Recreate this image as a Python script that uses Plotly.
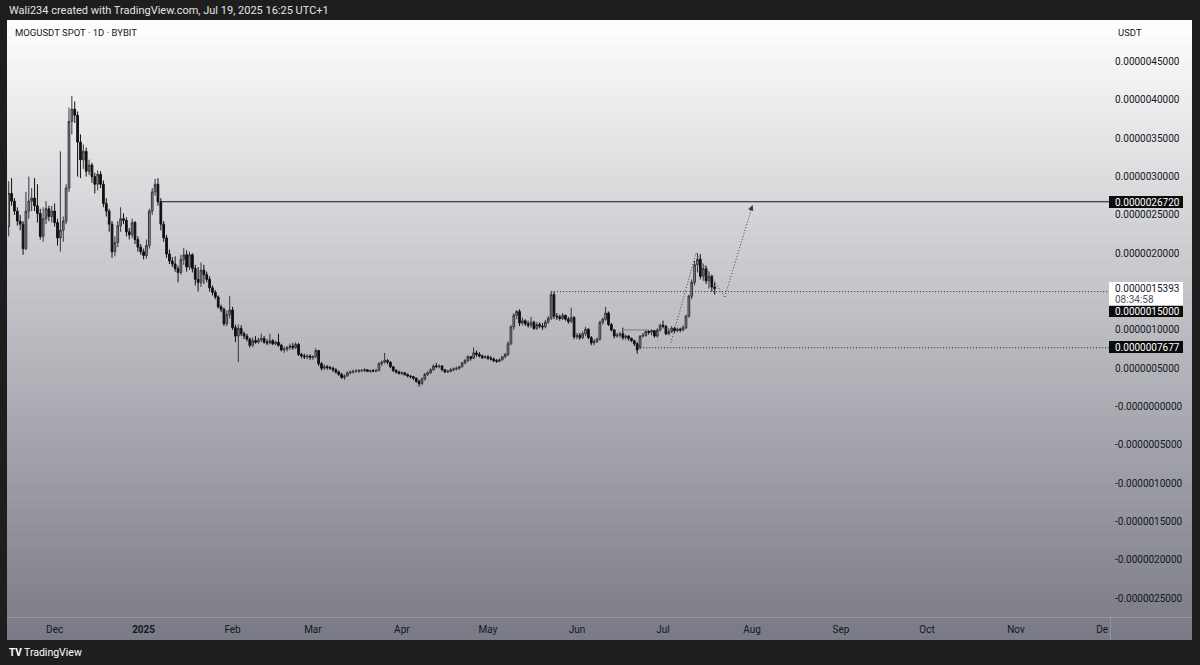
import plotly.graph_objects as go
import pandas as pd

# ---------------- data (prices in micro-USDT, i.e. x 1e-6) ----------------
start_date = "2024-11-15"
open_ = [2.35,2.78,2.68,2.55,2.42,2.38,2.06,2.55,2.68,2.72,2.62,2.52,2.22,2.45,2.58,2.48,2.55,2.40,2.20,2.30,
         2.42,2.85,3.72,3.88,3.80,3.45,3.22,3.33,3.07,3.15,3.00,2.90,3.03,2.90,2.65,2.55,2.38,2.02,2.14,2.36,
         2.45,2.43,2.28,2.24,2.40,2.18,2.08,2.02,1.97,2.10,2.55,2.80,2.90,2.67,2.38,2.20,1.99,1.90,1.86,1.80,
         1.75,1.92,1.98,1.82,1.98,1.80,1.66,1.62,1.78,1.72,1.66,1.55,1.49,1.43,1.30,1.27,1.08,1.20,1.26,1.03,
         0.92,1.02,0.95,0.92,0.88,0.80,0.86,0.84,0.87,0.89,0.84,0.83,0.86,0.82,0.84,0.80,0.74,0.75,0.77,0.79,
         0.77,0.81,0.68,0.66,0.65,0.66,0.64,0.65,0.73,0.56,0.50,0.52,0.51,0.50,0.48,0.45,0.42,0.38,0.40,0.44,
         0.45,0.46,0.46,0.47,0.47,0.48,0.46,0.47,0.46,0.47,0.56,0.58,0.60,0.58,0.52,0.47,0.45,0.43,0.44,0.42,
         0.40,0.39,0.37,0.33,0.30,0.36,0.42,0.44,0.48,0.53,0.52,0.53,0.48,0.45,0.46,0.48,0.49,0.50,0.52,0.57,
         0.60,0.65,0.63,0.70,0.68,0.66,0.64,0.65,0.63,0.62,0.60,0.59,0.61,0.65,0.68,0.82,1.04,1.19,1.24,1.09,
         1.12,1.08,1.06,1.10,1.02,1.07,1.05,1.04,1.10,1.15,1.46,1.18,1.17,1.15,1.19,1.14,1.11,1.16,0.91,0.93,
         0.90,0.95,1.01,0.90,0.83,0.85,0.88,1.10,1.14,1.22,1.07,1.00,0.92,0.93,0.95,0.90,0.92,0.89,0.86,0.82,
         0.77,0.92,0.93,0.98,0.97,0.99,0.92,1.00,1.06,1.05,0.95,0.98,1.02,0.99,1.01,1.00,1.03,1.18,1.44,1.62,
         1.85,1.92,1.70,1.80,1.64,1.70,1.56]
high = [2.94,2.98,2.72,2.60,2.50,2.42,2.80,3.00,2.85,2.98,2.90,2.58,2.60,2.68,2.62,2.62,2.65,2.45,3.33,2.48,
        2.90,3.90,4.05,3.98,3.85,3.55,3.42,3.38,3.22,3.18,3.05,3.08,3.07,2.95,2.72,2.58,2.42,2.22,2.42,2.60,
        2.52,2.47,2.33,2.45,2.42,2.22,2.12,2.06,2.18,2.58,2.85,2.97,2.98,2.72,2.42,2.24,2.05,1.95,1.96,1.84,
        1.98,2.07,2.04,2.02,2.00,1.85,1.82,1.88,1.85,1.76,1.70,1.58,1.52,1.45,1.33,1.29,1.25,1.44,1.30,1.07,
        1.07,1.06,0.98,0.95,0.90,0.90,0.92,0.90,0.95,0.92,0.88,0.95,0.88,0.86,0.95,0.82,0.78,0.79,0.82,0.83,
        0.84,0.83,0.70,0.69,0.68,0.68,0.67,0.76,0.74,0.58,0.55,0.54,0.53,0.52,0.50,0.47,0.44,0.42,0.46,0.47,
        0.48,0.49,0.49,0.49,0.50,0.49,0.48,0.49,0.49,0.58,0.60,0.70,0.62,0.59,0.53,0.49,0.47,0.46,0.45,0.43,
        0.41,0.40,0.38,0.35,0.38,0.44,0.46,0.50,0.55,0.57,0.55,0.54,0.49,0.48,0.50,0.51,0.52,0.53,0.58,0.62,
        0.67,0.66,0.77,0.73,0.71,0.68,0.67,0.67,0.66,0.64,0.62,0.63,0.66,0.70,0.85,1.06,1.22,1.26,1.27,1.16,
        1.14,1.12,1.17,1.12,1.10,1.10,1.09,1.13,1.18,1.50,1.50,1.22,1.20,1.22,1.20,1.17,1.29,1.18,0.96,0.96,
        0.98,1.04,1.02,0.92,0.88,0.90,1.12,1.16,1.30,1.24,1.09,1.01,0.96,0.97,1.03,0.94,0.93,0.90,0.87,0.84,
        0.93,0.96,1.00,1.00,1.01,1.00,1.02,1.08,1.12,1.06,1.02,1.05,1.04,1.03,1.03,1.06,1.20,1.46,1.66,1.90,
        2.00,1.99,1.86,1.84,1.76,1.72,1.62]
low = [2.22,2.62,2.50,2.36,2.30,1.98,2.04,2.45,2.55,2.55,2.40,2.18,2.15,2.38,2.42,2.40,2.35,2.10,2.02,2.15,
       2.38,2.80,3.55,3.70,3.00,2.98,3.10,3.00,3.02,2.92,2.78,2.82,2.85,2.60,2.48,2.28,1.94,1.96,2.08,2.28,
       2.38,2.22,2.18,2.20,2.12,2.02,1.98,1.92,1.93,2.06,2.50,2.75,2.62,2.30,2.15,1.94,1.86,1.82,1.76,1.62,
       1.72,1.85,1.76,1.78,1.75,1.58,1.50,1.56,1.60,1.62,1.50,1.45,1.40,1.28,1.23,1.05,1.05,1.15,1.00,0.84,
       0.58,0.92,0.88,0.85,0.77,0.78,0.82,0.82,0.84,0.82,0.80,0.81,0.80,0.80,0.78,0.72,0.70,0.72,0.74,0.74,
       0.75,0.66,0.63,0.62,0.62,0.61,0.61,0.63,0.53,0.47,0.48,0.48,0.48,0.45,0.43,0.40,0.36,0.35,0.39,0.42,
       0.43,0.44,0.44,0.45,0.45,0.45,0.44,0.45,0.45,0.46,0.53,0.56,0.55,0.50,0.45,0.43,0.42,0.41,0.40,0.38,
       0.37,0.35,0.31,0.26,0.28,0.34,0.40,0.43,0.47,0.50,0.50,0.46,0.44,0.44,0.45,0.46,0.47,0.48,0.51,0.55,
       0.58,0.60,0.62,0.65,0.64,0.62,0.62,0.61,0.60,0.58,0.57,0.58,0.60,0.63,0.66,0.80,1.00,1.14,1.05,1.06,
       1.05,1.03,1.03,1.00,1.00,1.02,1.00,1.02,1.08,1.13,1.14,1.13,1.12,1.13,1.12,1.08,1.09,0.88,0.88,0.87,
       0.88,0.92,0.88,0.80,0.80,0.83,0.86,1.07,1.12,1.05,0.98,0.89,0.90,0.90,0.87,0.87,0.86,0.84,0.79,0.69,
       0.75,0.90,0.91,0.94,0.93,0.90,0.90,0.98,1.02,0.93,0.93,0.96,0.96,0.97,0.97,0.98,1.01,1.16,1.40,1.58,
       1.75,1.66,1.64,1.60,1.54,1.50,1.46]
close = [2.78,2.68,2.55,2.42,2.38,2.06,2.55,2.68,2.72,2.62,2.52,2.22,2.45,2.58,2.48,2.55,2.40,2.20,2.30,2.42,
         2.85,3.72,3.88,3.80,3.45,3.22,3.33,3.07,3.15,3.00,2.90,3.03,2.90,2.65,2.55,2.38,2.02,2.14,2.36,2.45,
         2.43,2.28,2.24,2.40,2.18,2.08,2.02,1.97,2.10,2.55,2.80,2.90,2.67,2.38,2.20,1.99,1.90,1.86,1.80,1.75,
         1.92,1.98,1.82,1.98,1.80,1.66,1.62,1.78,1.72,1.66,1.55,1.49,1.43,1.30,1.27,1.08,1.20,1.26,1.03,0.92,
         1.02,0.95,0.92,0.88,0.80,0.86,0.84,0.87,0.89,0.84,0.83,0.86,0.82,0.84,0.80,0.74,0.75,0.77,0.79,0.77,
         0.81,0.68,0.66,0.65,0.66,0.64,0.65,0.73,0.56,0.50,0.52,0.51,0.50,0.48,0.45,0.42,0.38,0.40,0.44,0.45,
         0.46,0.46,0.47,0.47,0.48,0.46,0.47,0.46,0.47,0.56,0.58,0.60,0.58,0.52,0.47,0.45,0.43,0.44,0.42,0.40,
         0.39,0.37,0.33,0.30,0.36,0.42,0.44,0.48,0.53,0.52,0.53,0.48,0.45,0.46,0.48,0.49,0.50,0.52,0.57,0.60,
         0.65,0.63,0.70,0.68,0.66,0.64,0.65,0.63,0.62,0.60,0.59,0.61,0.65,0.68,0.82,1.04,1.19,1.24,1.09,1.12,
         1.08,1.06,1.10,1.02,1.07,1.05,1.04,1.10,1.15,1.46,1.18,1.17,1.15,1.19,1.14,1.11,1.16,0.91,0.93,0.90,
         0.95,1.01,0.90,0.83,0.85,0.88,1.10,1.14,1.22,1.07,1.00,0.92,0.93,0.95,0.90,0.92,0.89,0.86,0.82,0.74,
         0.92,0.93,0.98,0.97,0.99,0.92,1.00,1.06,1.05,0.95,0.98,1.02,0.99,1.01,1.00,1.03,1.18,1.44,1.62,1.85,
         1.92,1.70,1.80,1.64,1.70,1.56,1.5393]

unit = 1e-6
# drawn levels (USDT x 1e-6)
resistance_level = 2.672
resistance_from = "2025-01-07"
level_mid = 1.5
level_mid_from = "2025-05-23"
level_low = 0.7677
level_low_from = "2025-06-23"
box_level = 1.0
box_from, box_to = "2025-06-17", "2025-06-26"
proj_dates = ["2025-07-03 17:00", "2025-07-12 12:00", "2025-07-22 12:00", "2025-08-01 05:00"]
proj_prices = [0.83, 2.00, 1.43, 2.63]
last_price_text = "0.0000015393"
countdown_text = "08:34:58"

ytick_vals = [4.5, 4.0, 3.5, 3.0, 2.5, 2.0, 1.0, 0.5, 0.0, -0.5, -1.0, -1.5, -2.0, -2.5]
ytick_text = ["0.0000045000", "0.0000040000", "0.0000035000", "0.0000030000", "0.0000025000",
              "0.0000020000", "0.0000010000", "0.0000005000", "-0.0000000000", "-0.0000005000",
              "-0.0000010000", "-0.0000015000", "-0.0000020000", "-0.0000025000"]
xtick_vals = ["2024-12-01", "2025-01-01", "2025-02-01", "2025-03-01", "2025-04-01", "2025-05-01",
              "2025-06-01", "2025-07-01", "2025-08-01", "2025-09-01", "2025-10-01", "2025-11-01", "2025-12-01"]
xtick_text = ["Dec", "<b>2025</b>", "Feb", "Mar", "Apr", "May", "Jun", "Jul", "Aug", "Sep", "Oct", "Nov", "De"]

dates = pd.date_range(start_date, periods=len(close), freq="D")

# ---------------- layout geometry ----------------
W, H = 1200, 665
PL, PR, PT, PB = 8, 1110, 21, 617  # plot area in pixels
FONT = "Roboto, 'Open Sans', sans-serif"
TXT = "#131722"
DOTS = "1px,2px"


def pxp(x):
    return (x - PL) / (PR - PL)


def pyp(y):
    return (PB - y) / (PB - PT)


fig = go.Figure()
fig.add_trace(go.Candlestick(
    x=dates,
    open=[v * unit for v in open_], high=[v * unit for v in high],
    low=[v * unit for v in low], close=[v * unit for v in close],
    increasing=dict(fillcolor="#8e8f96", line=dict(color="#34353b", width=1)),
    decreasing=dict(fillcolor="#101010", line=dict(color="#101010", width=1)),
    whiskerwidth=0, showlegend=False, hoverinfo="skip",
))

shapes = []
# gradient background of the chart panel (each band runs to the panel bottom -> no seams)
top_c = (254, 254, 254)
bot_c = (121, 122, 133)
n = 80
y_top, y_bot = 20, 640
for i in range(n):
    t = (i + 0.5) / n
    c = tuple(int(round(top_c[k] + (bot_c[k] - top_c[k]) * t)) for k in range(3))
    ya = y_top + (y_bot - y_top) * i / n
    shapes.append(dict(type="rect", xref="paper", yref="paper", x0=pxp(7), x1=pxp(1192),
                       y0=pyp(y_bot), y1=pyp(ya), fillcolor="rgb(%d,%d,%d)" % c,
                       line=dict(width=0), layer="below"))
# time axis separator
shapes.append(dict(type="line", xref="paper", yref="paper", x0=pxp(7), x1=pxp(1192),
                   y0=pyp(617.5), y1=pyp(617.5), line=dict(color="rgba(255,255,255,0.18)", width=1),
                   layer="below"))
shapes.append(dict(type="line", xref="paper", yref="paper", x0=pxp(1110.5), x1=pxp(1110.5),
                   y0=pyp(617), y1=pyp(640), line=dict(color="rgba(255,255,255,0.18)", width=1),
                   layer="below"))

xend = "2025-12-05"
# horizontal drawing lines
shapes.append(dict(type="line", xref="x", yref="y", x0=resistance_from, x1=xend,
                   y0=resistance_level * unit, y1=resistance_level * unit,
                   line=dict(color=TXT, width=1)))
shapes.append(dict(type="line", xref="x", yref="y", x0=level_mid_from, x1=xend,
                   y0=level_mid * unit, y1=level_mid * unit,
                   line=dict(color="#2a2e39", width=1, dash=DOTS)))
shapes.append(dict(type="line", xref="x", yref="y", x0=level_low_from, x1=xend,
                   y0=level_low * unit, y1=level_low * unit,
                   line=dict(color="#2a2e39", width=1, dash=DOTS)))
shapes.append(dict(type="line", xref="x", yref="y", x0=box_from, x1=box_to,
                   y0=box_level * unit, y1=box_level * unit,
                   line=dict(color="#8e9099", width=1.5)))
# projection path
for a in range(len(proj_dates) - 1):
    shapes.append(dict(type="line", xref="x", yref="y", x0=proj_dates[a], x1=proj_dates[a + 1],
                       y0=proj_prices[a] * unit, y1=proj_prices[a + 1] * unit,
                       line=dict(color="#3a3d47", width=1, dash=DOTS)))


# price tags on the axis
def tag(y0, y1, color):
    shapes.append(dict(type="rect", xref="paper", yref="paper", x0=pxp(1109), x1=pxp(1183),
                       y0=pyp(y1), y1=pyp(y0), fillcolor=color, line=dict(width=0), layer="above"))


tag(196, 208, "#0c0c0c")
tag(282, 305, "#ffffff")
tag(306, 317, "#0c0c0c")
tag(341, 353, "#0c0c0c")

annotations = []


def text(x, y, s, size=10, color=TXT, anchor="left"):
    annotations.append(dict(xref="paper", yref="paper", x=pxp(x), y=pyp(y), text=s, showarrow=False,
                            xanchor=anchor, yanchor="middle", font=dict(family=FONT, size=size, color=color)))


text(7, 11, "Wali234 created with TradingView.com, Jul 19, 2025 16:25 UTC+1", 11, "#e3e3e3")
text(13, 33, "MOGUSDT SPOT · 1D · BYBIT", 9.5, TXT)
text(1116, 33, "USDT", 9.5, TXT)
text(1113, 202, "%.10f" % (resistance_level * unit), 10, "#ffffff")
text(1113, 288.5, last_price_text, 10, TXT)
text(1113, 299.5, countdown_text, 10, "#50535e")
text(1113, 311.5, "%.10f" % (level_mid * unit), 10, "#ffffff")
text(1113, 347, "%.10f" % (level_low * unit), 10, "#ffffff")
text(22, 652, "TradingView", 10.5, "#ffffff")
text(7, 652, "<b>TV</b>", 10, "#ffffff")

# arrow head at the end of the projection
annotations.append(dict(xref="x", yref="y", x=proj_dates[-1], y=proj_prices[-1] * unit,
                        ax=-2.5, ay=7, axref="pixel", ayref="pixel", showarrow=True,
                        arrowhead=2, arrowsize=1.1, arrowwidth=1, arrowcolor="#3a3d47", text=""))

fig.update_layout(
    width=W, height=H,
    margin=dict(l=PL, r=W - PR, t=PT, b=H - PB, pad=0),
    paper_bgcolor="#1e1e1e", plot_bgcolor="rgba(0,0,0,0)",
    shapes=shapes, annotations=annotations, showlegend=False,
    boxgap=0.15,
    xaxis=dict(type="date", range=["2024-11-14 18:00", "2025-12-03 18:00"],
               rangeslider=dict(visible=False), showgrid=False, zeroline=False, showline=False,
               tickmode="array", tickvals=xtick_vals, ticktext=xtick_text,
               ticks="outside", ticklen=3, tickcolor="rgba(0,0,0,0)",
               tickfont=dict(family=FONT, size=10, color=TXT), fixedrange=True),
    yaxis=dict(side="right", range=[-2.745 * unit, 5.03 * unit], showgrid=False, zeroline=False,
               showline=False, tickmode="array", tickvals=[v * unit for v in ytick_vals],
               ticktext=ytick_text, ticks="outside", ticklen=2, tickcolor="rgba(0,0,0,0)",
               tickfont=dict(family=FONT, size=10, color=TXT), fixedrange=True),
)

fig.write_html(
    "out.html",
    config={"displayModeBar": False, "responsive": False},
    post_script="document.body.style.margin='0';document.body.style.padding='0';"
                "document.body.style.background='#1e1e1e';document.body.style.overflow='hidden';",
)
